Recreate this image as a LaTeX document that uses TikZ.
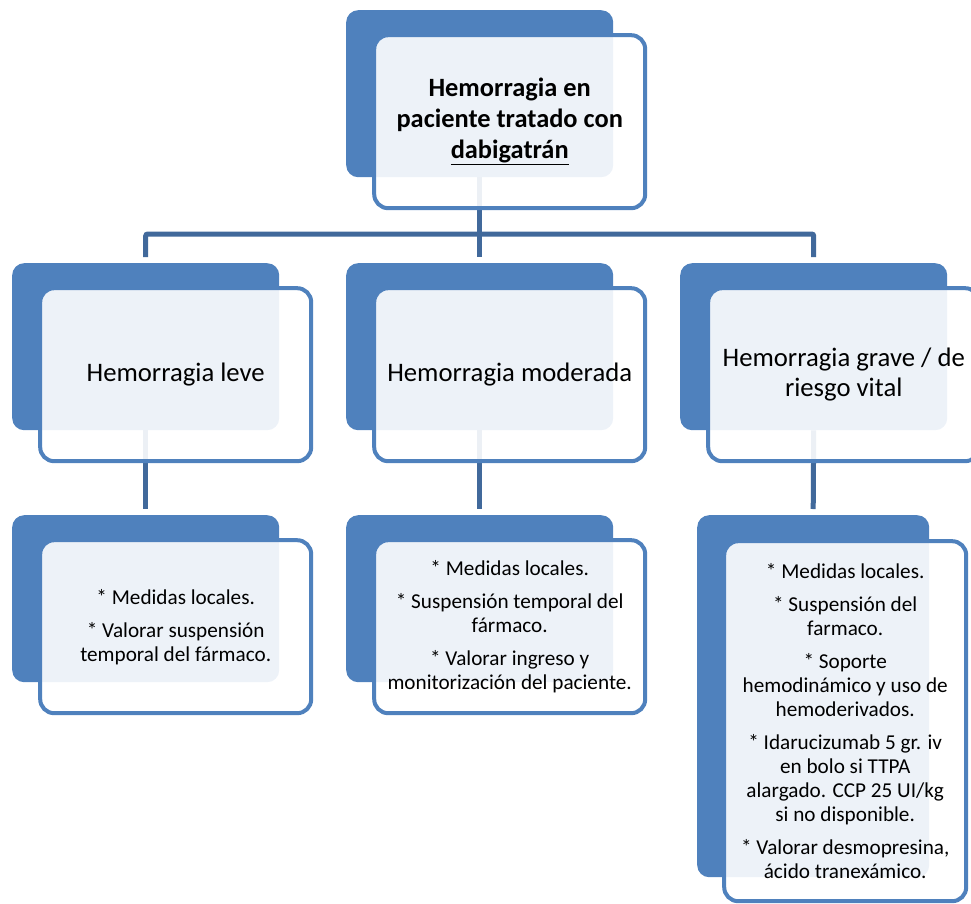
\documentclass[tikz,border=0pt]{standalone}
\usepackage{fontspec}
\setmainfont{Carlito}
\usetikzlibrary{positioning,calc}
\definecolor{azul}{HTML}{4F81BD}
\definecolor{azulosc}{HTML}{41699B}

\begin{document}
\begin{tikzpicture}[x=1pt,y=-1pt,
    fondo/.style={fill=azul,rounded corners=12pt,inner sep=0pt,anchor=north west,
                  minimum width=\Bw pt,minimum height=\Bh pt},
    tarjeta/.style={draw=azul,line width=4pt,fill=white,fill opacity=0.9,text opacity=1,
                  rounded corners=14pt,inner sep=0pt,align=center,
                  minimum width=\Fw pt,minimum height=\Fh pt},
    titulo/.style={font=\fontsize{26.7}{30}\selectfont},
    lista/.style={font=\fontsize{21.2}{24}\selectfont},
    enlace/.style={draw=azulosc,line width=5pt,rounded corners=2pt}]
  \def\Bw{267}          % ancho del fondo
  \def\Bh{167}          % alto del fondo
  \def\Fw{271}          % ancho de la tarjeta
  \def\Fh{173}          % alto de la tarjeta
  \def\dx{30}           % desplazamiento de la tarjeta
  \def\dy{28}

  \useasboundingbox (0,0) rectangle (971,904);

  % --- fondos
  \node[fondo] (hem)      at (346,10)  {};
  \node[fondo] (leve)     at (12,263)  {};
  \node[fondo] (moderada) at (346,263) {};
  \node[fondo] (grave)    at (680,263) {};
  \node[fondo] (leveT)     at (12,515)  {};
  \node[fondo] (moderadaT) at (346,515) {};
  \node[fondo,minimum width=232pt,minimum height=362pt] (graveT) at (697,515) {};

  % --- enlaces
  \coordinate (bus) at (hem.south |- 0,234);
  \draw[enlace] (hem.south) -- (bus);
  \draw[enlace] (bus) -| ([yshift=6pt]leve.north);
  \draw[enlace] (bus) -| ([yshift=6pt]grave.north);
  \draw[enlace] (bus) -- ([yshift=6pt]moderada.north);
  \draw[enlace] (leve.south) -- ([yshift=6pt]leveT.north);
  \draw[enlace] (moderada.south) -- ([yshift=6pt]moderadaT.north);
  \draw[enlace] (grave.south) -- ([yshift=6pt]graveT.north);

  % --- tarjetas
  \node[tarjeta,font=\fontsize{26.4}{31}\selectfont\bfseries] (hemF)
       at ([xshift=\dx pt,yshift=-\dy pt]hem.center)
       {Hemorragia en\\ paciente tratado con\\ \underline{dabigatrán}};
  \node[tarjeta,titulo] (leveF) at ([xshift=\dx pt,yshift=-\dy pt]leve.center)
       {Hemorragia leve};
  \node[tarjeta,titulo] (moderadaF) at ([xshift=\dx pt,yshift=-\dy pt]moderada.center)
       {Hemorragia moderada};
  \node[tarjeta,titulo] (graveF) at ([xshift=\dx pt,yshift=-\dy pt]grave.center)
       {Hemorragia grave / de\\ riesgo vital};
  \node[tarjeta,lista] (leveTF) at ([xshift=\dx pt,yshift=-\dy pt]leveT.center)
       {* Medidas locales.\\[9pt]* Valorar suspensión\\ temporal del fármaco.};
  \node[tarjeta,lista] (moderadaTF) at ([xshift=\dx pt,yshift=-\dy pt]moderadaT.center)
       {* Medidas locales.\\[9pt]* Suspensión temporal del\\ fármaco.\\[9pt]%
        * Valorar ingreso y\\ monitorización del paciente.};
  \node[tarjeta,lista,minimum width=242pt,minimum height=360pt] (graveTF)
       at ([xshift=32pt,yshift=-25pt]graveT.center)
       {* Medidas locales.\\[9pt]* Suspensión del\\ farmaco.\\[9pt]%
        * Soporte\\ hemodinámico y uso de\\ hemoderivados.\\[9pt]%
        * Idarucizumab 5 gr. iv\\ en bolo si TTPA\\ alargado. CCP 25 UI/kg\\ si no disponible.\\[9pt]%
        * Valorar desmopresina,\\ ácido tranexámico.};
\end{tikzpicture}
\end{document}
